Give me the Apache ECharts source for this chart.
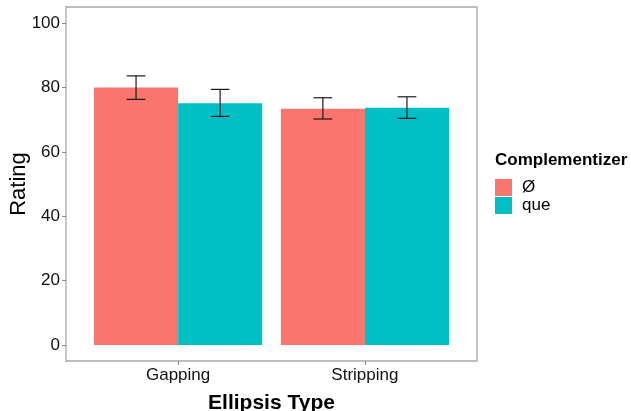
<!DOCTYPE html>
<html>
<head>
<meta charset="utf-8">
<script src="https://cdn.jsdelivr.net/npm/echarts@6/dist/echarts.min.js"></script>
<style>
  html, body { margin: 0; padding: 0; background: #fff; }
  #chart { width: 631px; height: 411px; }
</style>
</head>
<body>
<div id="chart"></div>
<script>
// Mean ratings by ellipsis type and complementizer, with error-bar bounds
const categories = ['Gapping', 'Stripping'];
const groups = ['Ø', 'que'];
const meanZero = [80.0, 73.4];
const lowZero  = [76.3, 70.2];
const highZero = [83.6, 76.8];
const meanQue  = [75.1, 73.7];
const lowQue   = [71.0, 70.4];
const highQue  = [79.4, 77.1];
const yTicks = [0, 20, 40, 60, 80, 100];

const colors = ['#F8766D', '#00BFC4'];
const dodge = 0.45;     // half of the dodge width, in category units
const capHalf = 0.05;   // half width of error-bar caps

function buildData(mean, lo, hi) {
  return categories.map((c, i) => [i + 1, mean[i], lo[i], hi[i]]);
}

function makeRender(side, color) {
  return function (params, api) {
    const x = api.value(0);
    const left = side === 0 ? x - dodge : x;
    const right = side === 0 ? x : x + dodge;
    const mid = (left + right) / 2;
    const p0 = api.coord([left, 0]);
    const p1 = api.coord([right, api.value(1)]);
    const lo = api.coord([mid, api.value(2)]);
    const hi = api.coord([mid, api.value(3)]);
    const cl = api.coord([mid - capHalf, api.value(2)]);
    const cr = api.coord([mid + capHalf, api.value(2)]);
    const ls = { stroke: '#1a1a1a', lineWidth: 1.2 };
    return {
      type: 'group',
      children: [
        { type: 'rect', shape: { x: p0[0], y: p1[1], width: p1[0] - p0[0], height: p0[1] - p1[1] },
          style: { fill: color } },
        { type: 'line', shape: { x1: lo[0], y1: lo[1], x2: hi[0], y2: hi[1] }, style: ls },
        { type: 'line', shape: { x1: cl[0], y1: lo[1], x2: cr[0], y2: lo[1] }, style: ls },
        { type: 'line', shape: { x1: cl[0], y1: hi[1], x2: cr[0], y2: hi[1] }, style: ls }
      ]
    };
  };
}

const chart = echarts.init(document.getElementById('chart'), null, { renderer: 'canvas' });
const font = 'Liberation Sans, Arial, sans-serif';

chart.setOption({
  animation: false,
  backgroundColor: '#fff',
  textStyle: { fontFamily: font },
  grid: {
    left: 66, right: 154, top: 7, bottom: 50,
    outerBoundsMode: 'none', containLabel: false,
    show: true, borderColor: '#a8a8a8', borderWidth: 1.3, backgroundColor: '#fff'
  },
  title: {
    text: 'Complementizer',
    left: 495, top: 152, padding: 0,
    textStyle: { fontFamily: font, fontSize: 17, fontWeight: 'bold', color: '#000' }
  },
  legend: {
    orient: 'vertical',
    left: 495, top: 179, padding: 0,
    itemWidth: 17, itemHeight: 17, itemGap: 1,
    icon: 'rect',
    data: groups,
    textStyle: { fontFamily: font, fontSize: 17, color: '#000', padding: [0, 0, 0, 5] }
  },
  xAxis: {
    type: 'value', min: 0.4, max: 2.6,
    name: 'Ellipsis Type', nameLocation: 'middle', nameGap: 32,
    nameTextStyle: { fontFamily: font, fontSize: 21, fontWeight: 'bold', color: '#000' },
    axisLine: { show: false, onZero: false },
    splitLine: { show: false },
    axisTick: { show: true, customValues: [1, 2], length: 4, lineStyle: { color: '#888', width: 1 } },
    axisLabel: {
      customValues: [1, 2], margin: 6,
      fontFamily: font, fontSize: 17, color: '#111',
      formatter: v => categories[Math.round(v) - 1] || ''
    }
  },
  yAxis: {
    type: 'value', min: -5, max: 105,
    name: 'Rating', nameLocation: 'middle', nameGap: 36, nameMoveOverlap: false,
    nameTextStyle: { fontFamily: font, fontSize: 22, color: '#000' },
    axisLine: { show: false, onZero: false },
    splitLine: { show: false },
    axisTick: { show: true, customValues: yTicks, length: 4, lineStyle: { color: '#888', width: 1 } },
    axisLabel: { customValues: yTicks, margin: 6, fontFamily: font, fontSize: 17, color: '#111' }
  },
  series: [
    { name: groups[0], type: 'custom', itemStyle: { color: colors[0] },
      renderItem: makeRender(0, colors[0]), data: buildData(meanZero, lowZero, highZero),
      encode: { x: 0, y: [1, 2, 3] } },
    { name: groups[1], type: 'custom', itemStyle: { color: colors[1] },
      renderItem: makeRender(1, colors[1]), data: buildData(meanQue, lowQue, highQue),
      encode: { x: 0, y: [1, 2, 3] } }
  ]
});
</script>
</body>
</html>
